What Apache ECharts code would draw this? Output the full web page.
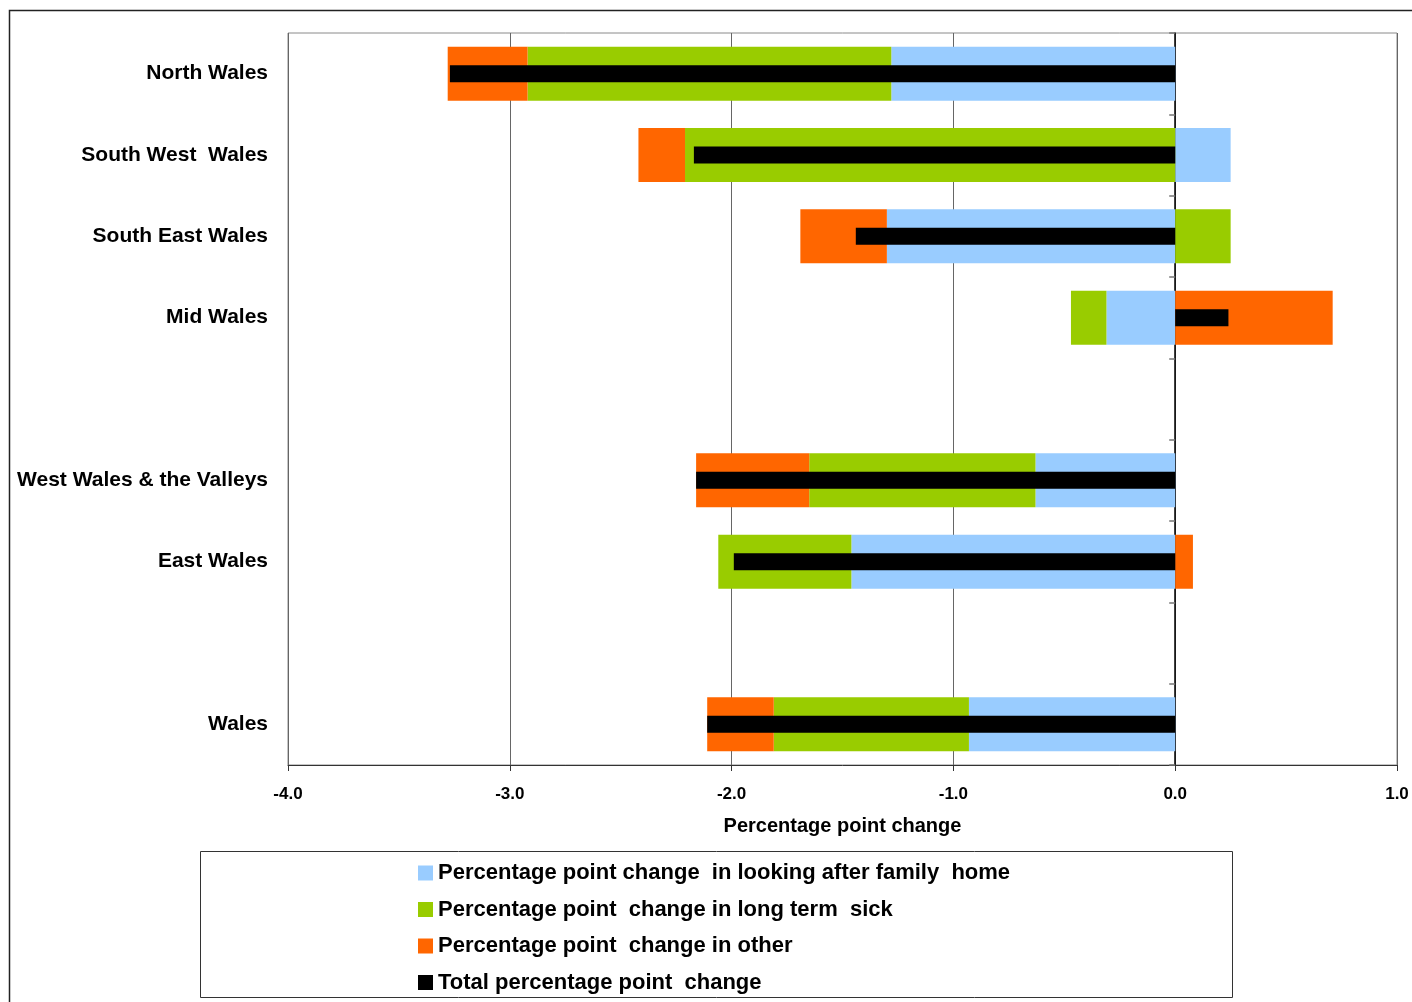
<!DOCTYPE html>
<html>
<head>
<meta charset="utf-8">
<script src="https://cdn.jsdelivr.net/npm/echarts@6/dist/echarts.min.js"></script>
<style>
  html, body { margin: 0; padding: 0; background: #fff; }
  #chart { width: 1412px; height: 1002px; }
</style>
</head>
<body>
<div id="chart"></div>
<script>
// regions, top to bottom ('' rows are the gaps between groups)
const regions = ['North Wales', 'South West  Wales', 'South East Wales', 'Mid Wales', '', 'West Wales & the Valleys', 'East Wales', '', 'Wales']
const familyHome = [-1.28, 0.25, -1.30, -0.31, null, -0.63, -1.46, null, -0.93]
const longTermSick = [-1.64, -2.21, 0.25, -0.16, null, -1.02, -0.60, null, -0.88]
const other = [-0.36, -0.21, -0.39, 0.71, null, -0.51, 0.08, null, -0.30]
const total = [-3.27, -2.17, -1.44, 0.24, null, -2.16, -1.99, null, -2.11]
const xTicks = [-4, 1, 1] // min, max, interval

const seriesNames = [
  'Percentage point change  in looking after family  home',
  'Percentage point  change in long term  sick',
  'Percentage point  change in other',
  'Total percentage point  change'
]
const colors = ['#99CCFF', '#99CC00', '#FF6600', '#000000']
const font = 'Liberation Sans, Arial, sans-serif'

const chart = echarts.init(document.getElementById('chart'))

const stackedBar = (name, data, color) => ({
  name,
  type: 'bar',
  stack: 'parts',
  yAxisIndex: 0,
  barWidth: 54,
  itemStyle: { color },
  data
})

const options = {
  animation: false,
  backgroundColor: '#fff',
  textStyle: { fontFamily: font },
  grid: {
    left: 288,
    right: 15,
    top: 33,
    bottom: 237,
    show: true,
    borderColor: '#8a8a8a',
    borderWidth: 1
  },
  xAxis: {
    type: 'value',
    min: xTicks[0],
    max: xTicks[1],
    interval: xTicks[2],
    name: 'Percentage point change',
    nameLocation: 'middle',
    nameGap: 51,
    nameTextStyle: { color: '#000', fontWeight: 'bold', fontSize: 20, fontFamily: font },
    axisLine: { show: true, onZero: false, lineStyle: { color: '#333', width: 1 } },
    axisTick: { show: true, length: 6, lineStyle: { color: '#333' } },
    axisLabel: {
      color: '#000',
      fontWeight: 'bold',
      fontSize: 17,
      margin: 21,
      formatter: (v) => v.toFixed(1)
    },
    splitLine: { show: true, lineStyle: { color: '#666', width: 1 } }
  },
  yAxis: [
    {
      type: 'category',
      data: regions,
      inverse: true,
      axisLine: { show: false, onZero: false },
      axisTick: { show: false },
      axisLabel: { color: '#000', fontWeight: 'bold', fontSize: 21, margin: 20, padding: [8, 0, 0, 0] }
    },
    {
      type: 'category',
      data: regions,
      inverse: true,
      position: 'left',
      axisLine: { show: true, onZero: true, lineStyle: { color: '#000', width: 1.5 } },
      axisTick: { show: true, length: 6, lineStyle: { color: '#777', width: 1.5 } },
      axisLabel: { show: false },
      splitLine: { show: false }
    }
  ],
  legend: {
    orient: 'vertical',
    left: 418,
    top: 862,
    padding: 0,
    itemWidth: 15,
    itemHeight: 15,
    itemGap: 14.5,
    icon: 'rect',
    textStyle: { color: '#000', fontWeight: 'bold', fontSize: 22, fontFamily: font },
    data: seriesNames
  },
  graphic: [
    {
      type: 'rect',
      shape: { x: 9.5, y: 10.5, width: 1500, height: 1100 },
      style: { fill: 'none', stroke: '#222', lineWidth: 1.5 },
      silent: true
    },
    {
      type: 'rect',
      shape: { x: 200.5, y: 851.5, width: 1032, height: 146 },
      style: { fill: 'none', stroke: '#333', lineWidth: 1 },
      silent: true
    }
  ],
  series: [
    stackedBar(seriesNames[0], familyHome, colors[0]),
    stackedBar(seriesNames[1], longTermSick, colors[1]),
    stackedBar(seriesNames[2], other, colors[2]),
    {
      name: seriesNames[3],
      type: 'bar',
      yAxisIndex: 1,
      barWidth: 17,
      itemStyle: { color: colors[3] },
      z: 5,
      data: total
    }
  ]
}
chart.setOption(options)
</script>
</body>
</html>
